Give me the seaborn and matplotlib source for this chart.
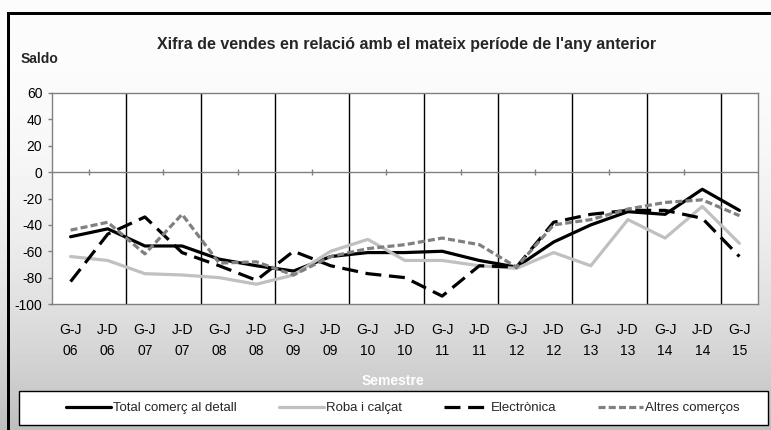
import numpy as np
import pandas as pd
import matplotlib
matplotlib.use("Agg")
import matplotlib.pyplot as plt
from matplotlib.patches import Rectangle
import seaborn as sns

# ---- data ----
periods = ["G-J", "J-D"] * 9 + ["G-J"]
years = ["06", "06", "07", "07", "08", "08", "09", "09", "10", "10",
         "11", "11", "12", "12", "13", "13", "14", "14", "15"]
series_names = ["Total comerç al detall", "Roba i calçat", "Electrònica", "Altres comerços"]
total = [-49, -43, -56, -56, -66, -71, -75, -64, -61, -61, -60, -67, -72, -53, -40, -30, -32, -13, -29]
roba = [-64, -67, -77, -78, -80, -85, -78, -60, -51, -67, -67, -71, -73, -61, -71, -36, -50, -26, -54]
electronica = [-83, -47, -34, -61, -71, -82, -60, -71, -77, -80, -94, -71, -72, -38, -32, -29, -29, -35, -64]
altres = [-44, -38, -62, -32, -69, -68, -78, -64, -58, -55, -50, -55, -72, -40, -36, -28, -23, -21, -33]
yticks = [-100, -80, -60, -40, -20, 0, 20, 40, 60]

labels = [f"{p}\n{y}" for p, y in zip(periods, years)]
n = len(labels)
rows = []
for name, vals in zip(series_names, [total, roba, electronica, altres]):
    for i, v in enumerate(vals):
        rows.append({"pos": i, "val": v, "serie": name})
df = pd.DataFrame(rows)

sns.set_theme(style="white")
plt.rcParams["font.family"] = ["Liberation Sans Narrow", "Liberation Sans", "DejaVu Sans"]

W, H = 771, 430
fig = plt.figure(figsize=(W / 100, H / 100), dpi=100)

# background gradient
bg = fig.add_axes([0, 0, 1, 1], zorder=-10)
t = np.linspace(0, 1, 430)[:, None]
grad = 252 - 62 * t ** 2.3
bg.imshow(np.repeat(grad, 2, axis=1), cmap="gray", vmin=0, vmax=255, aspect="auto",
          extent=[0, 1, 0, 1], origin="upper")
bg.set_xlim(0, 1); bg.set_ylim(0, 1)
bg.axis("off")
# black frame (left and top)
fig.patches.append(Rectangle((7 / W, 0), 3 / W, 1 - 12 / H, transform=fig.transFigure,
                             facecolor="black", edgecolor="none", zorder=-5))
fig.patches.append(Rectangle((7 / W, 1 - 15 / H), 1, 3 / H, transform=fig.transFigure,
                             facecolor="black", edgecolor="none", zorder=-5))

ax = fig.add_axes([52 / W, 1 - 304 / H, 706 / W, 211 / H])
ax.set_facecolor("white")

palette = {series_names[0]: "black", series_names[1]: "#c0c0c0",
           series_names[2]: "black", series_names[3]: "#808080"}
dashes = {series_names[0]: "", series_names[1]: "",
          series_names[2]: (5, 2.4), series_names[3]: (2.2, 1.0)}
sns.lineplot(data=df, x="pos", y="val", hue="serie", style="serie",
             hue_order=series_names, style_order=series_names,
             palette=palette, dashes=dashes, linewidth=2.3, estimator=None,
             legend=False, ax=ax, zorder=3)
series_lines = list(ax.lines[:4])

ax.set_xlim(-0.5, n - 0.5)
ax.set_ylim(-100, 60)
for b in np.arange(1.5, n - 1, 2):
    ax.axvline(b, color="black", lw=1.0, zorder=1)
ax.axhline(0, color="#808080", lw=1.0, zorder=1)
ax.vlines(np.arange(0.5, n - 1, 2), -2.2, 2.2, color="#808080", lw=1.0, zorder=1)

for s in ax.spines.values():
    s.set_color("#808080")
    s.set_linewidth(1.0)

ax.set_yticks(yticks)
ax.set_yticklabels([str(v) for v in yticks])
ax.set_xticks(range(n))
ax.set_xticklabels(labels, linespacing=1.6)
ax.tick_params(axis="y", left=True, length=3, width=1, color="#808080", pad=4,
               labelsize=10, labelcolor="black")
ax.tick_params(axis="x", bottom=False, length=0, pad=14, labelsize=10, labelcolor="black")
ax.set_xlabel("")
ax.set_ylabel("")

fig.text(407 / W, 1 - 45 / H, "Xifra de vendes en relació amb el mateix període de l'any anterior",
         ha="center", va="center", fontsize=11.5, fontweight="bold")
fig.text(21 / W, 1 - 59 / H, "Saldo", ha="left", va="center", fontsize=10, fontweight="bold")
fig.text(393 / W, 1 - 381 / H, "Semestre", ha="center", va="center", fontsize=10,
         fontweight="bold", color="white")

# legend box
fig.patches.append(Rectangle((19 / W, 1 - 425 / H), 749 / W, 34 / H, transform=fig.transFigure,
                             facecolor="white", edgecolor="black", lw=1.0, zorder=1))
leg = fig.legend(series_lines, series_names, loc="center", bbox_to_anchor=(403 / W, 1 - 408 / H),
                 ncol=4, frameon=False, fontsize=9.5, handlelength=3.4, handletextpad=0.15,
                 columnspacing=3.2)
leg.set_zorder(5)

fig.savefig("out.png", dpi=100)
